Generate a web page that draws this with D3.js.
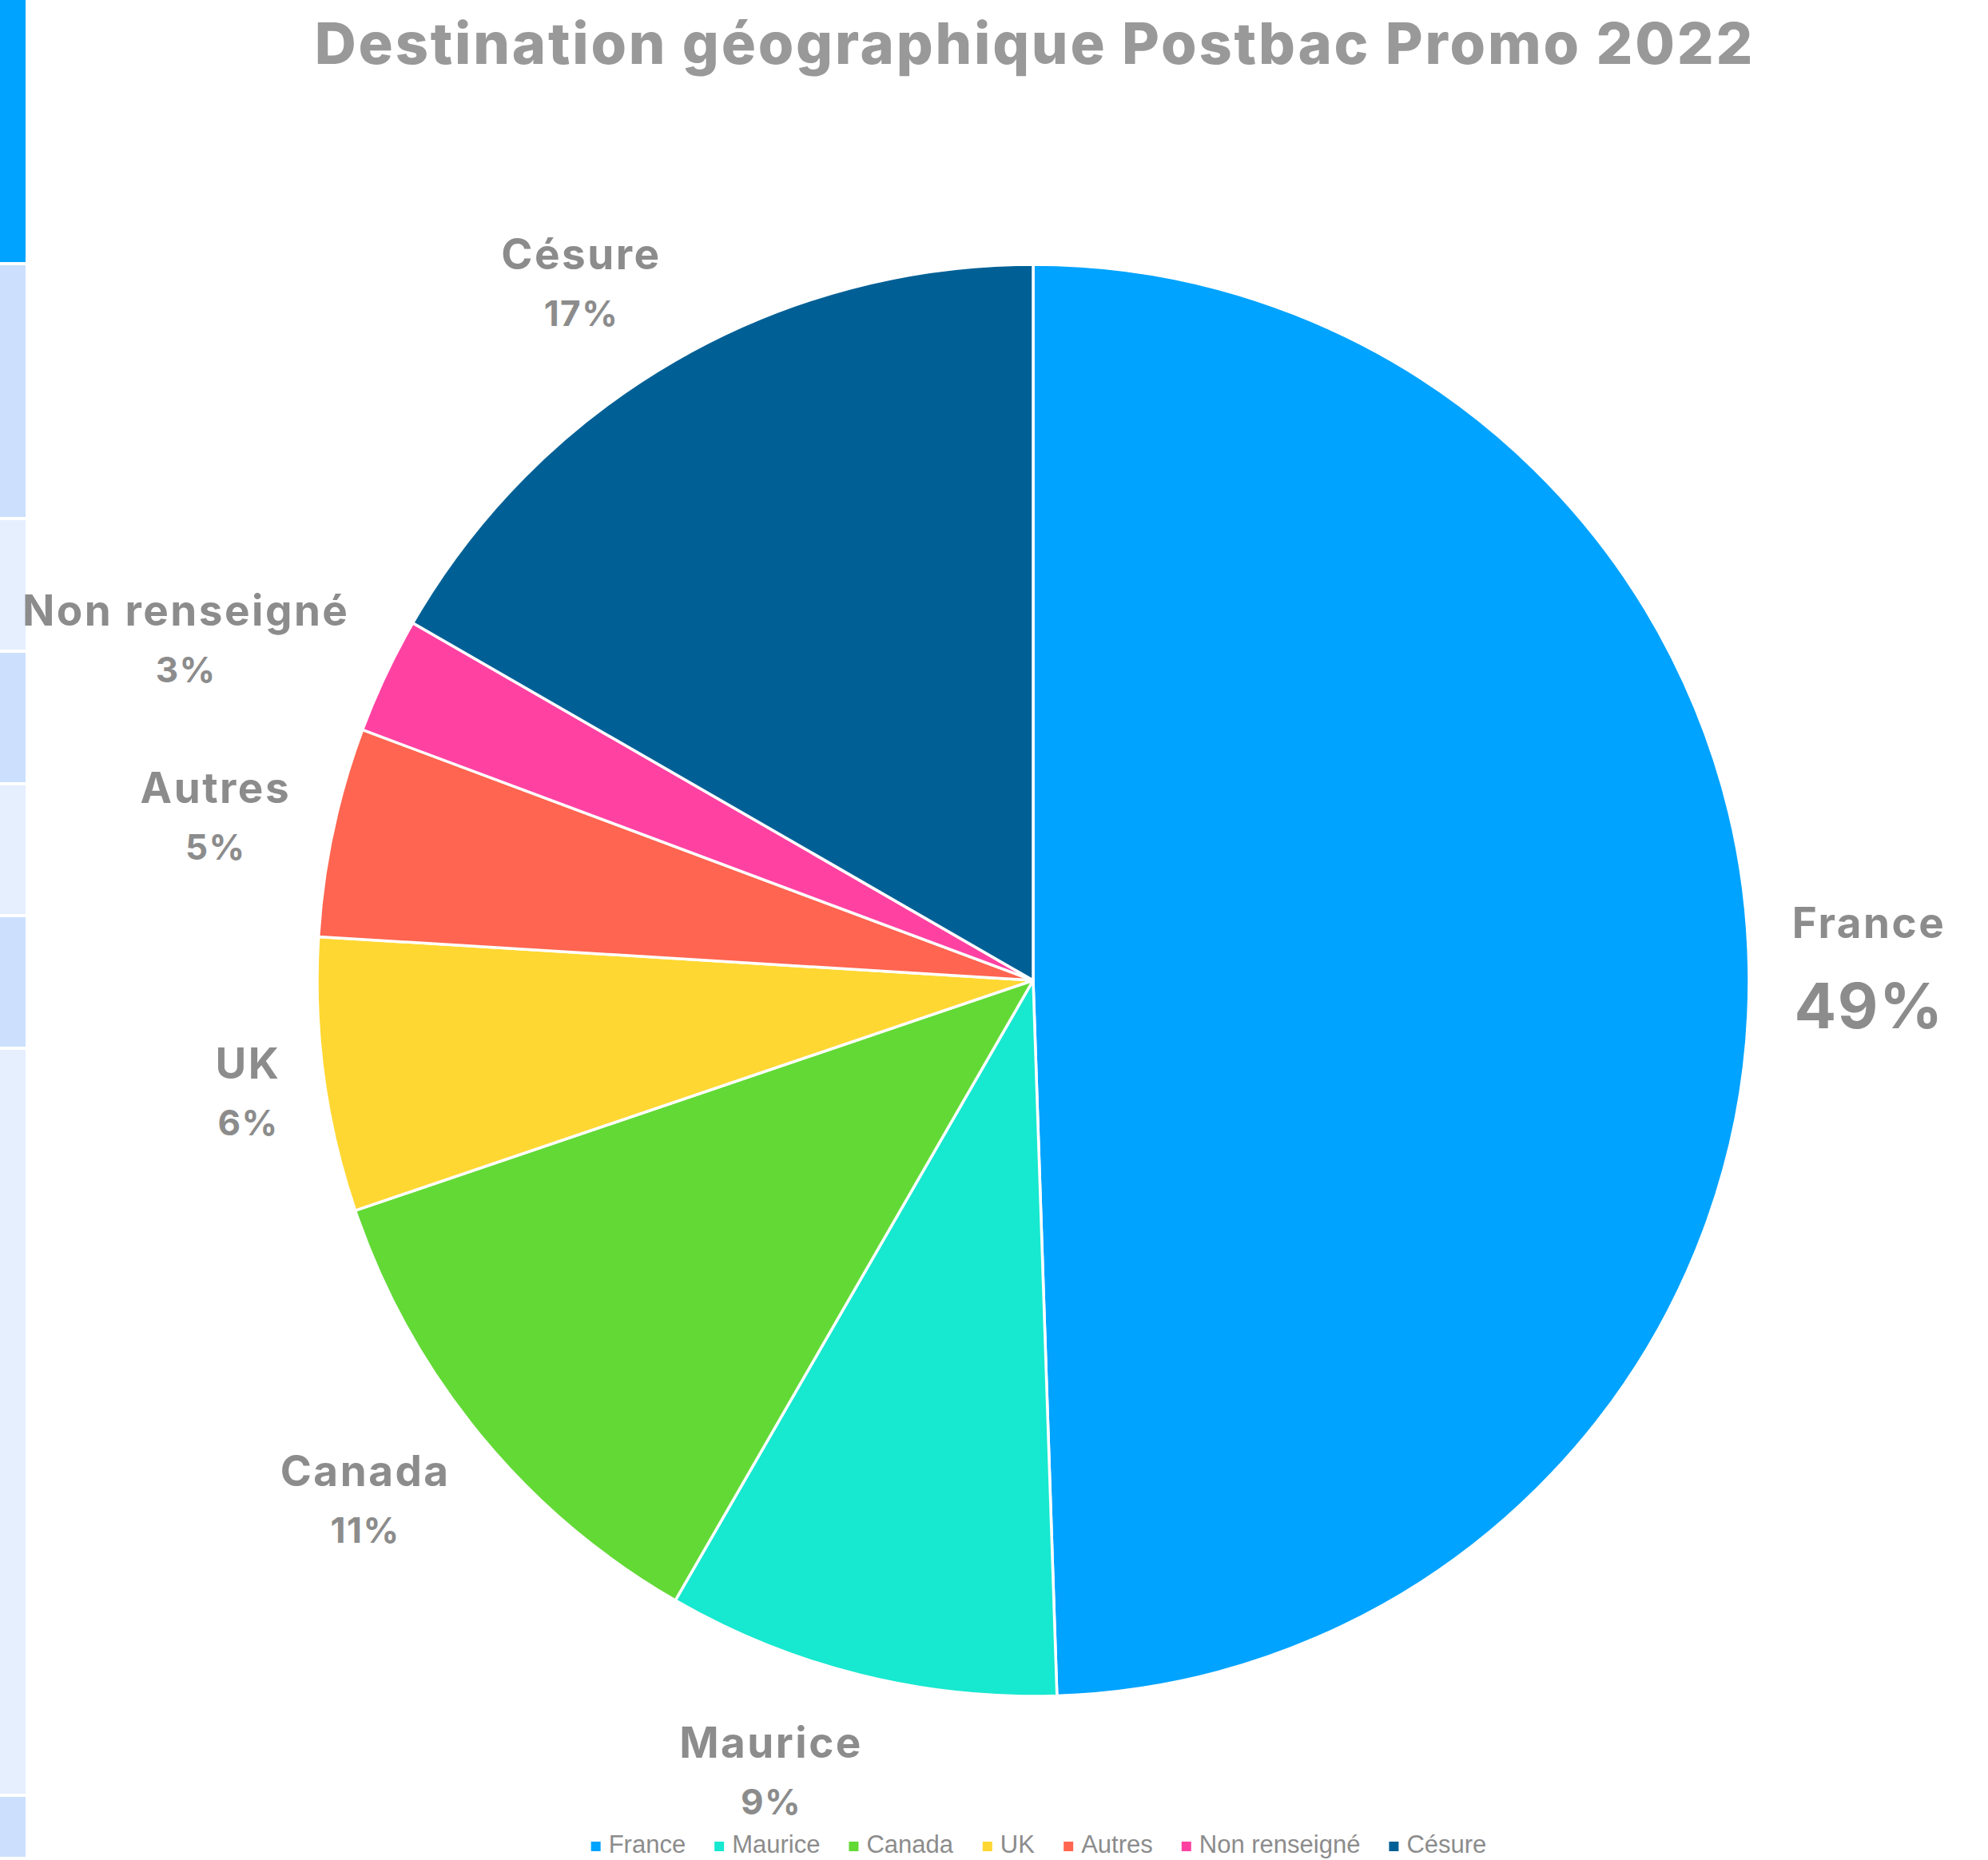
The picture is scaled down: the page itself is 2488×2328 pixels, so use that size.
<!DOCTYPE html>
<html>
<head>
<meta charset="utf-8">
<script src="https://cdn.jsdelivr.net/npm/d3@7"></script>
<style>
  html, body { margin: 0; padding: 0; background: #fff; }
  svg { display: block; }
</style>
</head>
<body>
<div id="chart"></div>
<script>
// chart data (shares in %)
const categories = ['France', 'Maurice', 'Canada', 'UK', 'Autres', 'Non renseigné', 'Césure'];
const shares = [49.47, 8.86, 11.46, 6.18, 4.72, 2.63, 16.68];
const colors = ['#00a3ff', '#17e8d0', '#63d936', '#ffd732', '#ff6550', '#ff42a2', '#006096'];
const title = 'Destination géographique Postbac Promo 2022';

// the little slide strip on the left edge
const stripHeights = [332, 319, 166, 166, 165, 166, 935, 79];
const stripColors = ['#00a3ff', '#cce0fe', '#e5effe', '#cce0fe', '#e5effe', '#cce0fe', '#e5effe', '#cce0fe'];

const width = 2488, height = 2328;
const cx = 1293, cy = 1227, radius = 896;
const gray = '#8c8c8c';
const labelFont = 'Inter, "Open Sans", sans-serif';

const data = categories.map((c, i) => ({ name: c, value: shares[i], color: colors[i] }));

const svg = d3.select('#chart').append('svg')
  .attr('width', width)
  .attr('height', height);

// left strip
let yy = 0;
svg.append('g').selectAll('rect')
  .data(stripHeights)
  .enter()
  .append('rect')
  .attr('x', 0)
  .attr('y', (d) => { const y0 = yy; yy += d; return y0; })
  .attr('width', 32)
  .attr('height', (d) => d - 4)
  .attr('fill', (d, i) => stripColors[i]);

// title
svg.append('text')
  .attr('x', 1295)
  .attr('y', 80)
  .attr('text-anchor', 'middle')
  .attr('font-family', labelFont)
  .attr('font-weight', 800)
  .attr('font-size', 72)
  .attr('letter-spacing', 2.8)
  .attr('fill', '#999999')
  .text(title);

const pie = d3.pie()
  .sort(null)
  .value(function (d) { return d.value; });

const arc = d3.arc()
  .innerRadius(0)
  .outerRadius(radius);

const g = svg.append('g')
  .attr('transform', 'translate(' + cx + ',' + cy + ')');

const arcs = g.selectAll('.slice')
  .data(pie(data))
  .enter()
  .append('g')
  .attr('class', 'slice');

arcs.append('path')
  .attr('d', arc)
  .attr('fill', function (d) { return d.data.color; })
  .attr('stroke', '#ffffff')
  .attr('stroke-width', 3.5)
  .attr('stroke-linejoin', 'round');

// labels outside the pie: name + percentage
const labelR = 950;
const labels = g.selectAll('.lbl')
  .data(pie(data))
  .enter()
  .append('g')
  .attr('class', 'lbl');

labels.append('text')
  .attr('text-anchor', 'middle')
  .attr('y', 0)
  .attr('font-family', labelFont)
  .attr('font-weight', 700)
  .attr('font-size', 53)
  .attr('letter-spacing', 2.5)
  .attr('fill', gray)
  .text(function (d) { return d.data.name; });

labels.append('text')
  .attr('text-anchor', 'middle')
  .attr('y', function (d) { return d.index === 0 ? 113 : 71; })
  .attr('font-family', labelFont)
  .attr('font-weight', 700)
  .attr('font-size', function (d) { return d.index === 0 ? 78 : 44; })
  .attr('letter-spacing', 1.5)
  .attr('fill', gray)
  .text(function (d) { return Math.round(d.data.value) + '%'; });

labels.each(function (d) {
  const node = d3.select(this);
  const bb = this.getBBox();
  const a = (d.startAngle + d.endAngle) / 2;
  const sx = Math.sin(a), sy = -Math.cos(a);
  const tx = sx * labelR + Math.sign(sx) * bb.width / 2 * (0.8 + 0.2 * Math.abs(sx));
  const ty = sy * labelR + sy * 65 + 4;
  // move the block so its centre sits at (tx, ty)
  const dx = tx - (bb.x + bb.width / 2);
  const dy = ty - (bb.y + bb.height / 2);
  node.attr('transform', 'translate(' + dx + ',' + dy + ')');
});

// legend
const legend = svg.append('g')
  .attr('font-family', '"Liberation Sans", Arial, sans-serif')
  .attr('font-size', 31);

const items = legend.selectAll('.item')
  .data(data)
  .enter()
  .append('g')
  .attr('class', 'item');

items.append('rect')
  .attr('x', 0)
  .attr('y', -14)
  .attr('width', 12)
  .attr('height', 12)
  .attr('fill', function (d) { return d.color; });

items.append('text')
  .attr('x', 22)
  .attr('y', 0)
  .attr('fill', gray)
  .text(function (d) { return d.name; });

let lx = 0;
items.each(function () {
  const w = this.getBBox().width;
  d3.select(this).attr('transform', 'translate(' + lx + ',0)');
  lx += w + 36;
});
const legendW = lx - 36;
legend.attr('transform', 'translate(' + (1300 - legendW / 2) + ',2319)');
</script>
</body>
</html>
